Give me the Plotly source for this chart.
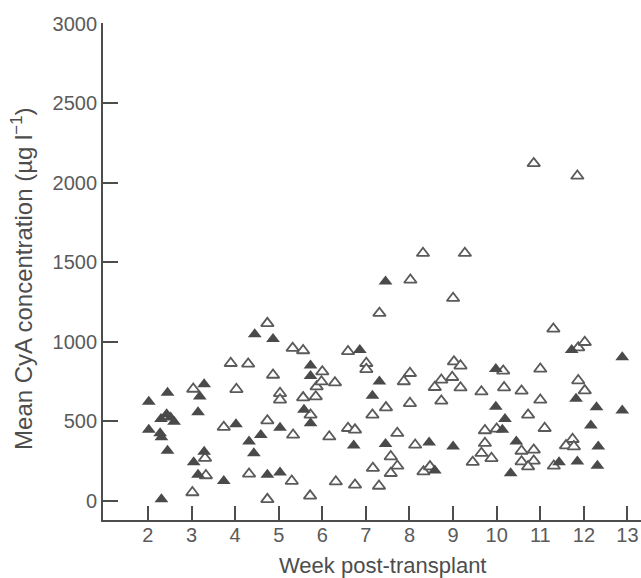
import plotly.graph_objects as go

# Filled triangles (week, mean CyA concentration)
filled_week = [2.02, 2.45, 2.02, 2.30, 2.43, 2.52, 2.60, 2.28, 2.31, 2.45, 2.31,
               3.29, 3.19, 3.15, 3.05, 3.29, 3.15, 3.74, 4.02, 4.32, 4.43, 4.59,
               4.45, 4.87, 5.03, 4.74, 5.03, 5.73, 5.73, 5.58, 5.73, 6.86, 7.31,
               7.15, 6.72, 7.45, 8.45, 9.00, 8.58, 9.98, 9.98, 10.19, 10.13,
               10.45, 10.32, 11.43, 11.85, 12.31, 12.33, 12.16, 11.82, 12.29,
               12.88, 12.88, 11.72, 7.45]
filled_conc = [624, 681, 447, 515, 545, 525, 498, 425, 400, 316, 10,
               734, 656, 558, 244, 310, 164, 125, 482, 373, 300, 415,
               1049, 1019, 461, 164, 178, 851, 786, 573, 489, 950, 751,
               661, 348, 358, 367, 342, 191, 830, 593, 516, 447,
               373, 174, 244, 248, 222, 342, 474, 642, 589,
               904, 568, 950, 1380]

# Open triangles (week, mean CyA concentration)
open_week = [4.74, 5.32, 5.56, 3.90, 4.30, 4.87, 3.04, 4.03, 5.03, 5.03, 5.56,
             5.87, 5.85, 5.73, 3.74, 4.74, 5.33, 3.31, 3.33, 4.32, 5.30, 3.02,
             4.74, 5.72, 7.31, 9.00, 6.59, 7.01, 7.01, 6.00, 5.98, 6.29, 8.01,
             7.87, 7.46, 7.15, 8.01, 9.02, 9.17, 8.98, 8.73, 8.58, 9.17, 8.73,
             9.65, 6.16, 6.59, 6.75, 7.72, 8.13, 7.57, 7.16, 7.72, 7.57, 8.32,
             8.47, 6.31, 6.75, 7.30, 9.73, 9.73, 9.65, 9.45, 9.88, 10.00,
             10.15, 10.17, 10.57, 11.00, 11.00, 10.72, 11.87, 12.02, 11.10,
             11.74, 11.59, 11.77, 10.57, 10.85, 10.57, 10.85, 10.72, 11.31,
             11.30, 11.87, 12.02, 10.85, 11.85, 8.31, 9.27, 8.02]
open_conc = [1117, 961, 946, 866, 862, 792, 704, 702, 677, 636, 650,
             719, 656, 541, 464, 505, 415, 269, 160, 170, 125, 53,
             10, 32, 1181, 1275, 940, 866, 828, 813, 750, 744, 803,
             751, 587, 541, 614, 876, 850, 778, 761, 715, 712, 629,
             687, 404, 457, 447, 426, 352, 279, 206, 220, 174, 184,
             216, 121, 101, 94, 443, 363, 300, 244, 268, 453,
             818, 713, 692, 830, 635, 541, 757, 694, 457,
             388, 348, 342, 314, 321, 247, 252, 216, 220,
             1082, 964, 998, 2123, 2044, 1558, 1558, 1390]

x_ticks = [2, 3, 4, 5, 6, 7, 8, 9, 10, 11, 12, 13]
y_ticks = [0, 500, 1000, 1500, 2000, 2500, 3000]
x_title = "Week post-transplant"
y_title = "Mean CyA concentration (µg l<sup>−1</sup>)"

INK = "#4d4d4d"
FONT = "Liberation Sans, Arial, Helvetica, sans-serif"

fig = go.Figure()
fig.add_trace(go.Scatter(
    x=open_week, y=open_conc, mode="markers",
    marker=dict(symbol="triangle-up", size=11, color="white",
                line=dict(color="#5a5a5a", width=1.8)),
    showlegend=False, hoverinfo="x+y"))
fig.add_trace(go.Scatter(
    x=filled_week, y=filled_conc, mode="markers",
    marker=dict(symbol="triangle-up", size=12, color="#4a4a4a",
                line=dict(width=0)),
    showlegend=False, hoverinfo="x+y"))

fig.update_layout(
    width=641, height=578,
    margin=dict(l=103, r=0, t=23, b=58),
    plot_bgcolor="white", paper_bgcolor="white",
    font=dict(family=FONT, color=INK, size=18),
    xaxis=dict(
        range=[0.97, 13.31], tickvals=x_ticks, ticks="inside", ticklen=14,
        tickwidth=1.8, tickcolor=INK, showline=True, linecolor=INK,
        linewidth=1.8, showgrid=False, zeroline=False,
        tickfont=dict(size=20, color="#5a5a5a"), ticklabelstandoff=-4),
    yaxis=dict(
        range=[-120, 3006], tickvals=y_ticks, ticks="inside", ticklen=15,
        tickwidth=1.8, tickcolor=INK, showline=True, linecolor=INK,
        linewidth=1.8, showgrid=False, zeroline=False,
        tickfont=dict(size=20, color="#5a5a5a")),
    annotations=[
        dict(text=x_title, xref="paper", yref="paper", x=0.5186, y=0,
             xanchor="center", yanchor="middle", yshift=-45, showarrow=False,
             font=dict(size=22, color=INK)),
        dict(text=y_title, xref="paper", yref="paper", x=0, y=0.485,
             xanchor="center", yanchor="middle", xshift=-81, textangle=-90,
             showarrow=False, font=dict(size=24, color=INK)),
    ],
)

fig.write_html("out.html")
